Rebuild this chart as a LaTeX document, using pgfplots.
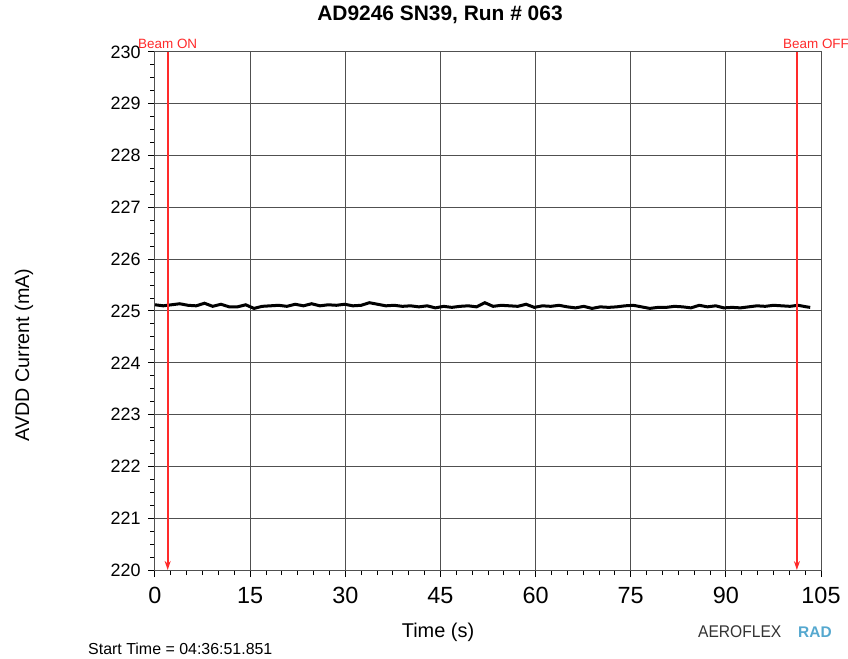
\documentclass[border=0pt]{standalone}
\usepackage{fontspec}
\setmainfont{Liberation Sans}
\usepackage{pgfplots}
\pgfplotsset{compat=1.18}
\usetikzlibrary{arrows.meta,calc}
\definecolor{gridc}{HTML}{505050}
\definecolor{beam}{HTML}{FF2A2A}
\definecolor{radblue}{HTML}{55A8CF}

\pgfplotstableread{
t y
0 225.12
1.3 225.10
2.6 225.12
3.9 225.14
5.2 225.11
6.5 225.10
7.8 225.15
9.1 225.09
10.4 225.13
11.7 225.08
13 225.08
14.3 225.12
15.6 225.05
16.9 225.09
18.2 225.10
19.5 225.11
20.8 225.09
22.1 225.13
23.4 225.10
24.7 225.14
26 225.10
27.3 225.12
28.6 225.11
29.9 225.13
31.2 225.10
32.5 225.11
33.8 225.16
35.1 225.13
36.4 225.10
37.7 225.11
39 225.09
40.3 225.10
41.6 225.08
42.9 225.10
44.2 225.06
45.5 225.09
46.8 225.07
48.1 225.09
49.4 225.10
50.7 225.08
52 225.16
53.3 225.09
54.6 225.11
55.9 225.10
57.2 225.09
58.5 225.13
59.8 225.07
61.1 225.10
62.4 225.09
63.7 225.11
65 225.08
66.3 225.06
67.6 225.09
68.9 225.05
70.2 225.08
71.5 225.07
72.8 225.08
74.1 225.10
75.4 225.11
76.7 225.08
78 225.05
79.3 225.07
80.6 225.07
81.9 225.09
83.2 225.08
84.5 225.06
85.8 225.11
87.1 225.08
88.4 225.10
89.7 225.06
91 225.07
92.3 225.06
93.6 225.08
94.9 225.10
96.2 225.09
97.5 225.11
98.8 225.10
100.1 225.09
101.4 225.11
102.7 225.08
103.3 225.07
}\avdd

\begin{document}
\begin{tikzpicture}
\begin{axis}[
  scale only axis,
  width=666bp, height=518bp,
  xmin=0, xmax=105, ymin=220, ymax=230,
  xtick={0,15,...,105}, ytick={220,221,...,230},
  minor x tick num=5, minor y tick num=3,
  xtick pos=bottom, ytick pos=left,
  tick align=outside,
  major tick length=7bp, minor tick length=5bp,
  grid=major,
  major grid style={draw=gridc, line width=1bp},
  axis line style={draw=gridc, line width=1bp},
  tick style={draw=black, line width=1bp},
  x tick label style={font=\fontsize{23.5}{26}\selectfont, yshift=-7bp},
  y tick label style={font=\fontsize{18}{20}\selectfont, xshift=-4bp},
  /pgf/number format/assume math mode=true,
  clip=false,
]
\addplot[black, line width=3bp] table[x=t, y=y] {\avdd};

% beam markers
\addplot[beam, line width=2bp, -{Stealth[length=9bp,width=6bp]}] coordinates {(2,230) (2,220)};
\addplot[beam, line width=2bp, -{Stealth[length=9bp,width=6bp]}] coordinates {(101.2,230) (101.2,220)};
\node[text=beam, font=\fontsize{13.5}{15}\selectfont, anchor=south, inner sep=0pt] at (axis cs:2,230) [yshift=3bp] {Beam ON};
\node[text=beam, font=\fontsize{13.5}{15}\selectfont, anchor=south west, inner sep=0pt] at (axis cs:99.0,230) [yshift=3bp] {Beam OFF};

\coordinate (O) at (rel axis cs:0,0);
\coordinate (T) at (rel axis cs:1,1);
\end{axis}

\node[font=\fontsize{21}{24}\selectfont\bfseries] at ($(O)+(285bp,555bp)$) {AD9246 SN39, Run \# 063};
\node[font=\fontsize{19.8}{22}\selectfont, rotate=90] at ($(O)+(-131bp,215bp)$) {AVDD Current (mA)};
\node[font=\fontsize{20}{22}\selectfont] at ($(O)+(283bp,-62bp)$) {Time (s)};
\node[font=\fontsize{16}{18}\selectfont, anchor=west, inner sep=0pt] at ($(O)+(-67bp,-79bp)$) {Start Time = 04:36:51.851};
\node[font=\fontsize{17}{19}\selectfont, anchor=west, inner sep=0pt, text=black!80] at ($(O)+(543bp,-62bp)$) {\scalebox{0.92}[1]{AEROFLEX}};
\node[font=\fontsize{15.5}{18}\selectfont\bfseries, anchor=west, inner sep=0pt, text=radblue] at ($(O)+(643bp,-62bp)$) {RAD};

\pgfresetboundingbox
\path[use as bounding box] ($(O)+(-155bp,-89bp)$) rectangle ($(T)+(27bp,52bp)$);
\end{tikzpicture}
\end{document}
